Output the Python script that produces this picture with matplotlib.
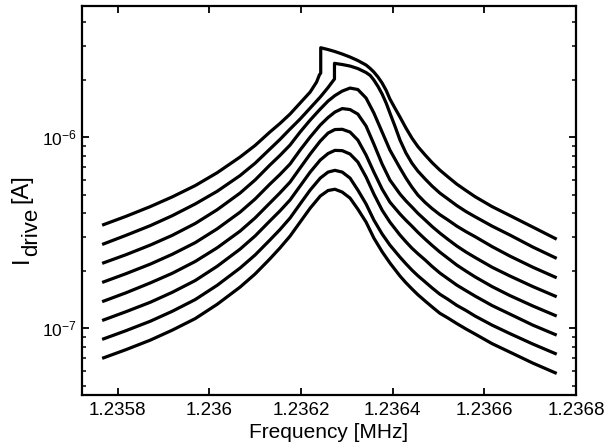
import numpy as np
import matplotlib
matplotlib.use("Agg")
from matplotlib import pyplot as plt
from matplotlib.ticker import FixedLocator, FixedFormatter, LogLocator, NullFormatter
from matplotlib.transforms import IdentityTransform

plt.rcParams['font.family'] = ['Liberation Sans', 'DejaVu Sans']
plt.rcParams['mathtext.fontset'] = 'custom'
plt.rcParams['mathtext.rm'] = 'Liberation Sans'
plt.rcParams['mathtext.it'] = 'Liberation Sans:italic'
plt.rcParams['mathtext.bf'] = 'Liberation Sans:bold'

# frequency points of the six lower sweeps [MHz]
freq = [1.235766, 1.235818, 1.235871, 1.235919, 1.235969, 1.236017, 1.236067,
        1.236100, 1.236132, 1.236154, 1.236176, 1.236198, 1.236220, 1.236242,
        1.236259, 1.236274, 1.236290, 1.236307, 1.236324, 1.236342, 1.236359,
        1.236377, 1.236394, 1.236416, 1.236429, 1.236442, 1.236455, 1.236471,
        1.236486, 1.236503, 1.236521, 1.236540, 1.236560, 1.236580, 1.236617,
        1.236656, 1.236706, 1.236758]

# drive current [nA], lowest drive level first
i1 = [69.7, 77.4, 86.8, 97.9, 112.5, 133.7, 164.5, 192.9, 231, 263.6,
      304, 360, 426, 493, 527, 535, 517, 481, 421, 360,
      297, 252, 220, 188, 173.3, 161, 150.1, 139, 129.6, 120,
      113.2, 106, 99.3, 93.4, 83.2, 75.1, 65.8, 58.1]
i2 = [87.6, 97.3, 109, 122.9, 141.5, 168.1, 207, 242.5, 290, 329,
      378, 448, 530, 612, 658, 672, 658, 612, 530, 448,
      369, 312, 273, 236, 217.9, 202, 188.7, 175, 162.9, 151,
      141.8, 132, 124.1, 116, 104, 93.9, 82.8, 73.3]
i3 = [110, 122.3, 137, 154.5, 178, 211.4, 260, 305, 365, 412,
      470, 556, 658, 761, 823, 855, 852, 818, 743, 620,
      505, 416, 360, 308, 284, 263, 246.1, 228, 211.1, 195,
      181.6, 168.5, 157.6, 147.6, 131.7, 118.8, 104, 92.2]
i4 = [138, 153.6, 173, 194.3, 224, 264.2, 323, 379, 453, 512,
      583, 691, 818, 956, 1053, 1099, 1102, 1066, 968, 808,
      658, 536, 458, 397, 368, 343, 318.5, 293, 272, 251,
      232.5, 214.5, 199.5, 186, 165.5, 148.5, 131, 116]
i5 = [174, 193.4, 217, 244.3, 281, 332, 406, 476, 569, 639,
      725, 858, 1004, 1160, 1270, 1357, 1415, 1398, 1324, 1146,
      922, 725, 598, 505, 465, 432, 400.5, 369, 341.6, 315.5,
      292, 270, 251, 235, 209, 188, 165.5, 146.4]
i6 = [219, 243.1, 273, 307, 354, 418, 511, 599, 716, 804,
      911, 1066, 1232, 1407, 1549, 1655, 1747, 1812, 1780, 1606,
      1341, 1066, 858, 691, 612, 549, 499, 456, 424, 394,
      369, 343, 321, 302, 268, 239, 209, 184]

# the two highest drive levels jump up on the way through resonance
freq7 = [1.235766, 1.235818, 1.235871, 1.235919, 1.235969, 1.236017, 1.236067,
         1.236100, 1.236132, 1.236154, 1.236176, 1.236198, 1.236220, 1.236242,
         1.236259, 1.236268, 1.236273, 1.236273, 1.236290, 1.236307, 1.236324,
         1.236342, 1.236351, 1.236359, 1.236368, 1.236377, 1.236386, 1.236394,
         1.236405, 1.236416, 1.236429, 1.236442, 1.236455, 1.236471, 1.236486,
         1.236503, 1.236521, 1.236540, 1.236560, 1.236580, 1.236617, 1.236656,
         1.236706, 1.236758]
i7 = [275, 307, 345, 389, 448, 522, 631, 733, 868, 975,
      1105, 1247, 1424, 1626, 1823, 1948, 2020, 2440, 2406, 2362,
      2292, 2184, 2109, 1995, 1847, 1686, 1508, 1341, 1144, 968,
      828, 733, 666, 605, 556, 511, 475, 439.5, 409, 384,
      343, 308, 266.5, 232.5]
freq8 = [1.235766, 1.235818, 1.235871, 1.235919, 1.235969, 1.236017, 1.236067,
         1.236100, 1.236132, 1.236154, 1.236176, 1.236198, 1.236220, 1.236234,
         1.236240, 1.236243, 1.236243, 1.236259, 1.236274, 1.236290, 1.236307,
         1.236324, 1.236342, 1.236351, 1.236359, 1.236368, 1.236377, 1.236386,
         1.236394, 1.236405, 1.236416, 1.236429, 1.236442, 1.236455, 1.236471,
         1.236486, 1.236503, 1.236521, 1.236540, 1.236560, 1.236580, 1.236617,
         1.236656, 1.236706, 1.236758]
i8 = [347, 386, 434, 488, 559, 653, 789, 908, 1066, 1182,
      1324, 1512, 1727, 1948, 2120, 2171, 2945, 2882, 2813, 2730,
      2633, 2524, 2391, 2294, 2197, 2069, 1925, 1758, 1587, 1422,
      1277, 1119, 991.5, 895, 808, 738, 674, 620, 569, 527,
      489, 434, 389.6, 339, 293]

xticks = [1.2358, 1.236, 1.2362, 1.2364, 1.2366, 1.2368]
xtick_labels = ["1.2358", "1.236", "1.2362", "1.2364", "1.2366", "1.2368"]

fig = plt.figure(figsize=(6.05, 4.46), dpi=100)
ax = fig.add_axes([0.1355, 0.1143, 0.8165, 0.8722])

sweeps = [(freq, i1), (freq, i2), (freq, i3), (freq, i4), (freq, i5), (freq, i6),
          (freq7, i7), (freq8, i8)]
for f, cur in sweeps:
    ax.plot(f, np.asarray(cur) * 1e-9, color='black', lw=2.3,
            solid_joinstyle='round', solid_capstyle='butt')

ax.set_yscale('log')
ax.set_xlim(1.235722, 1.2368)
ax.set_ylim(4.48e-8, 4.87e-6)

ax.xaxis.set_major_locator(FixedLocator(xticks))
ax.xaxis.set_major_formatter(FixedFormatter(xtick_labels))
ax.yaxis.set_major_locator(LogLocator(base=10))
ax.yaxis.set_minor_locator(LogLocator(base=10, subs=np.arange(2, 10)))
ax.yaxis.set_minor_formatter(NullFormatter())

ax.tick_params(which='both', direction='in', top=True, right=True)
ax.tick_params(which='major', length=5, width=1.3)
ax.tick_params(which='minor', length=3, width=1.1)
ax.tick_params(axis='x', pad=5, labelsize=13.5)
ax.tick_params(axis='y', pad=4, labelsize=12.5)
for s in ax.spines.values():
    s.set_linewidth(1.6)

ax.set_xlabel("Frequency [MHz]", fontsize=15, labelpad=3)

# y label: I with a large "drive" subscript, stacked bottom to top (pixels)
renderer = fig.canvas.get_renderer()
pix = IdentityTransform()
y0 = 446 - 263
t = fig.text(27.5, y0, "I", fontsize=17, rotation=90, rotation_mode='anchor',
             ha='left', va='baseline', transform=pix)
y0 = t.get_window_extent(renderer).y1
t = fig.text(37, y0, "drive", fontsize=16, rotation=90, rotation_mode='anchor',
             ha='left', va='baseline', transform=pix)
y0 = t.get_window_extent(renderer).y1 + 5
fig.text(27.5, y0, "[A]", fontsize=17, rotation=90, rotation_mode='anchor',
         ha='left', va='baseline', transform=pix)

fig.savefig("out.png", dpi=100)
